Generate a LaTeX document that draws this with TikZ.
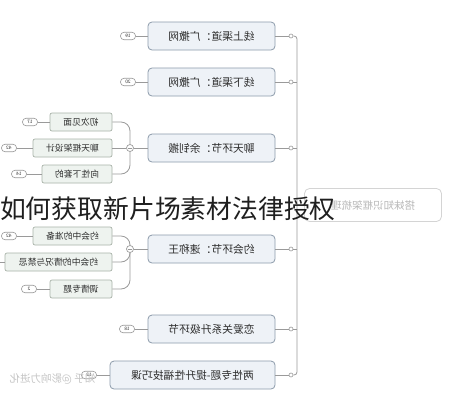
\documentclass[tikz,border=0pt]{standalone}
\usepackage{fontspec}
\usepackage{graphicx}
\newfontfamily\cjk{Noto Sans CJK SC}
\definecolor{boxline}{HTML}{8D9BAB}
\definecolor{boxfill}{HTML}{EEF2F7}
\definecolor{subline}{HTML}{A9B3A9}
\definecolor{subfill}{HTML}{EEF3EF}
\definecolor{txt}{HTML}{2E2E2E}
\definecolor{linkc}{HTML}{9A9A9A}
\definecolor{faint}{HTML}{B8B8B8}
\newcommand{\mir}[1]{\reflectbox{#1}}
\begin{document}
\begin{tikzpicture}[x=1pt,y=-1pt,
  mainbox/.style={draw=boxline, fill=boxfill, rounded corners=4pt, line width=0.8pt, minimum height=28pt, inner sep=2pt, font=\cjk\fontsize{10.8}{12}\selectfont, text=txt},
  subbox/.style={draw=subline, fill=subfill, rounded corners=2pt, line width=0.7pt, minimum height=18pt, inner sep=2pt, font=\cjk\fontsize{8.8}{10}\selectfont, text=txt},
  badge/.style={draw=linkc, fill=white, rounded corners=3.5pt, minimum width=15pt, minimum height=7.5pt, inner sep=0.5pt, line width=0.6pt, font=\sffamily\fontsize{5}{5}\selectfont, text=txt},
  dotc/.style={circle, draw=linkc, fill=white, inner sep=0pt, minimum size=4pt, line width=0.6pt},
  hub/.style={circle, draw=linkc, fill=white, inner sep=0pt, minimum size=7pt, line width=0.7pt},
  link/.style={draw=linkc, line width=0.8pt}]
\useasboundingbox (0,0) rectangle (452,400);
\fill[white] (0,0) rectangle (452,400);

% main nodes
\node[mainbox, minimum width=127pt] (n1) at (211.5,36) {\mir{线上渠道：广撒网}};
\node[mainbox, minimum width=127pt] (n2) at (211.5,82) {\mir{线下渠道：广撒网}};
\node[mainbox, minimum width=127pt] (n3) at (211.5,148) {\mir{聊天环节：余钊搬}};
\node[mainbox, minimum width=127pt] (n4) at (211.5,249) {\mir{约会环节：速称王}};
\node[mainbox, minimum width=127pt] (n5) at (211.5,329) {\mir{恋爱关系升级环节}};
\node[mainbox, minimum width=165pt] (n6) at (192.5,375) {\mir{两性专题-提升性福技巧课}};

% root (faded)
\node[draw=faint!60, rounded corners=5pt, line width=0.8pt, minimum width=137pt, minimum height=33pt, font=\cjk\fontsize{10.5}{12}\selectfont, text=faint] (root) at (373,205) {\mir{搭妹知识框架梳理}};

% trunk
\node[dotc] (d1) at (291,36) {};
\node[dotc] (d2) at (291,82) {};
\node[dotc] (d3) at (291,148) {};
\node[dotc] (d4) at (291,249) {};
\node[dotc] (d5) at (291,329) {};
\node[dotc] (d6) at (291,375) {};
\coordinate (tm) at (297,205);
\foreach \i in {1,...,6} {\draw[link] (n\i.east) -- (d\i.west);}
\draw[link, rounded corners=3pt] (d1.east) -| (tm) |- (d6.east);
\draw[link] (d2.east) -- (d2.east -| tm);
\draw[link] (d3.east) -- (d3.east -| tm);
\draw[link] (d4.east) -- (d4.east -| tm);
\draw[link] (d5.east) -- (d5.east -| tm);
\draw[link] (tm) -- (root.west);

% children of n3
\node[subbox, minimum width=62pt] (c1) at (81,122) {\mir{初次见面}};
\node[subbox, minimum width=79pt] (c2) at (72.5,148) {\mir{聊天框架设计}};
\node[subbox, minimum width=70pt] (c3) at (77,174) {\mir{向性下套的}};
\node[hub] (h3) at (130,148) {};
\draw[link] (h3.east) -- (n3.west);
\draw[link, rounded corners=9pt] (c1.east) -| (h3.north);
\draw[link] (c2.east) -- (h3.west);
\draw[link, rounded corners=9pt] (c3.east) -| (h3.south);
\draw[linkc, line width=0.6pt] (128,148) -- (132,148);

% children of n4
\node[subbox, minimum width=79pt] (e1) at (72.5,236) {\mir{约会中的准备}};
\node[subbox, minimum width=107pt] (e2) at (58.5,262) {\mir{约会中的情况与禁忌}};
\node[subbox, minimum width=62pt] (e3) at (81,289) {\mir{调情专题}};
\node[hub] (h4) at (130,249) {};
\draw[link] (h4.east) -- (n4.west);
\draw[link, rounded corners=9pt] (e1.east) -| (h4.north);
\draw[link, rounded corners=9pt] (e2.east) -| (h4.south);
\draw[link, rounded corners=9pt] (e3.east) -| (h4.south);
\draw[linkc, line width=0.6pt] (128,249) -- (132,249);

% badges
\node[badge] (b1) at (128,36) {\mir{19}};
\node[badge] (b2) at (128,82) {\mir{20}};
\node[badge] (bc1) at (30,122) {\mir{17}};
\node[badge] (bc2) at (9,148) {\mir{42}};
\node[badge] (bc3) at (19,174) {\mir{14}};
\node[badge] (be1) at (9,236) {\mir{42}};
\node[badge] (be3) at (29,289) {\mir{2}};
\node[badge] (b5) at (127,329) {\mir{18}};
\node[badge] (b6) at (89,375) {\mir{12}};
\coordinate (be2) at (0,262);
\draw[link] (b1.east) -- (n1.west);
\draw[link] (b2.east) -- (n2.west);
\draw[link] (bc1.east) -- (c1.west);
\draw[link] (bc2.east) -- (c2.west);
\draw[link] (bc3.east) -- (c3.west);
\draw[link] (be1.east) -- (e1.west);
\draw[link] (be2) -- (e2.west);
\draw[link] (be3.east) -- (e3.west);
\draw[link] (b5.east) -- (n5.west);
\draw[link] (b6.east) -- (n6.west);

% watermark
\node[font=\cjk\fontsize{10.5}{12}\selectfont, text=faint!80, anchor=west] (wm) at (6,379) {\mir{知乎 @影响力进化}};

% overlay title
\node[font=\cjk\fontsize{25.8}{28}\selectfont, text=black!88, anchor=west, inner sep=0pt] (title) at (0,209) {如何获取新片场素材法律授权};
\end{tikzpicture}
\end{document}
